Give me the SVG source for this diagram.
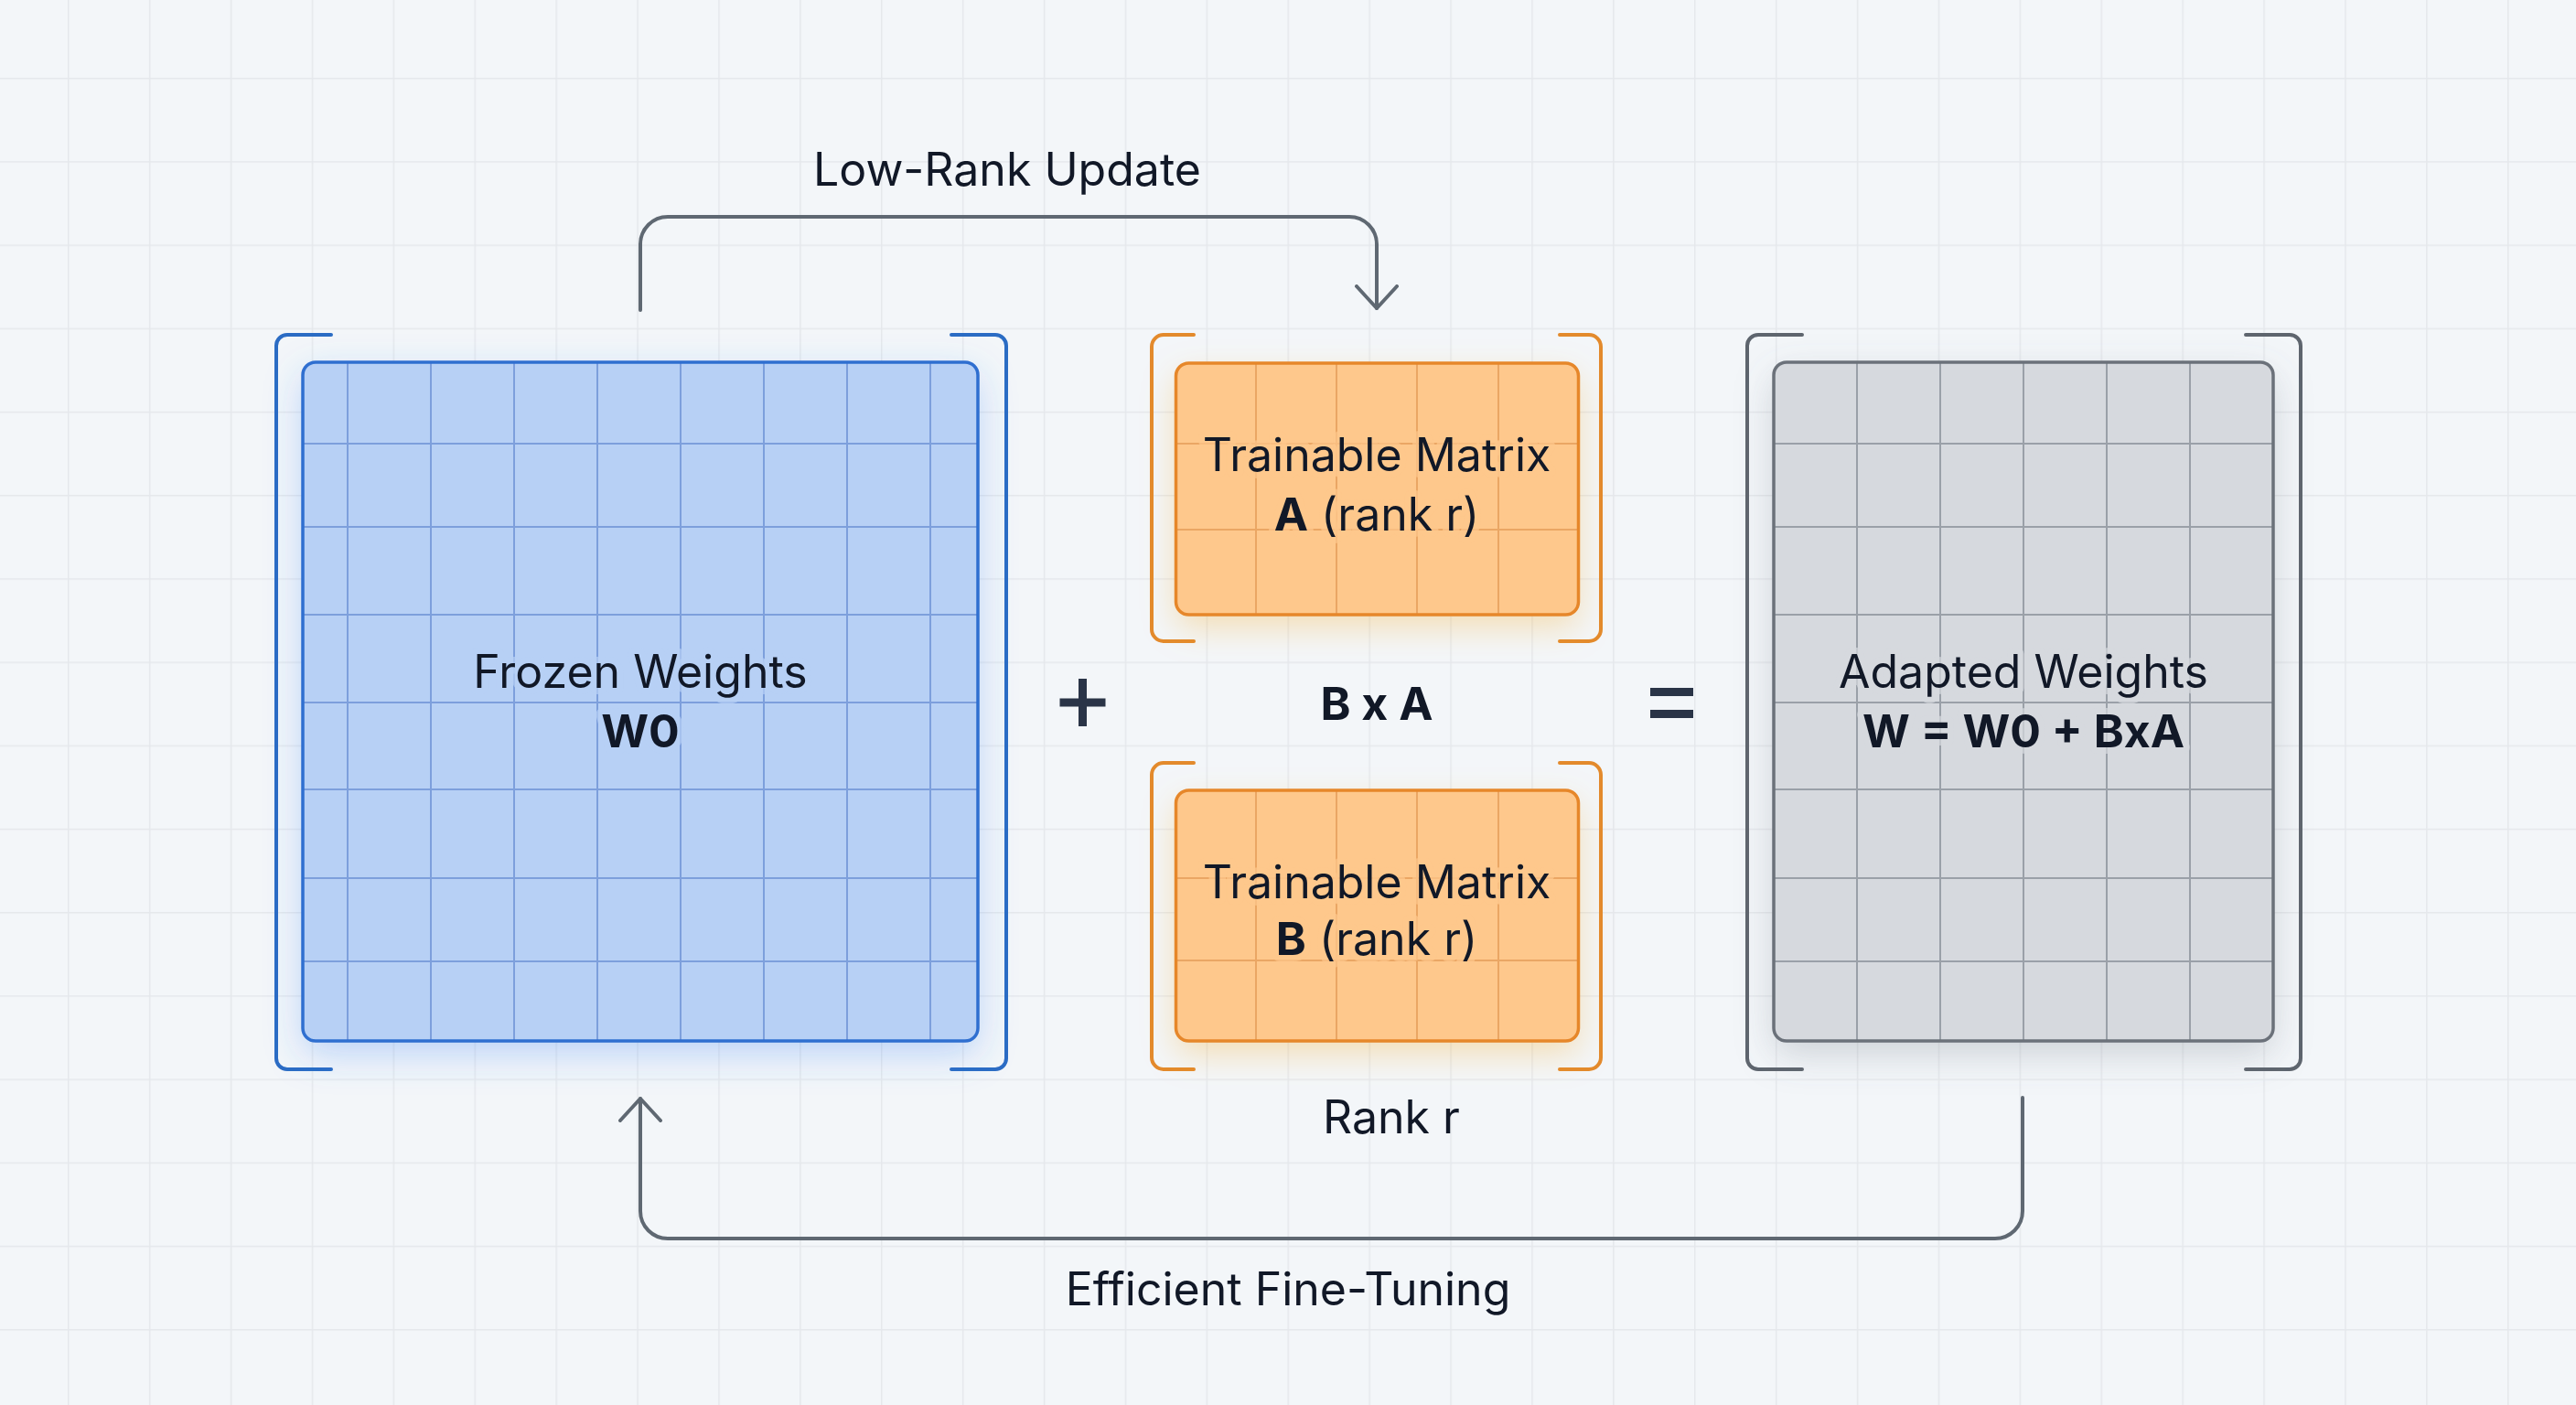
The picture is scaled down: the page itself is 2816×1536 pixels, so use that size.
<svg xmlns="http://www.w3.org/2000/svg" width="2816" height="1536" viewBox="0 0 2816 1536">
  <style>
    .lbl { font-family: Inter, "Noto Sans", "Liberation Sans", sans-serif; font-size: 50px; fill: #111827; text-anchor: middle; }
    .b { font-weight: 700; }
    .conn { fill: none; stroke: #5f6872; stroke-width: 4; stroke-linecap: round; stroke-linejoin: round; }
    .brk-blue { fill: none; stroke: #2b6cc4; stroke-width: 4; stroke-linecap: round; }
    .brk-orange { fill: none; stroke: #e38a2c; stroke-width: 4; stroke-linecap: round; }
    .brk-gray { fill: none; stroke: #5e656e; stroke-width: 4; stroke-linecap: round; }
    .grid-blue { stroke: #7d9fdc; stroke-width: 2; }
    .grid-orange { stroke: #eaa664; stroke-width: 2; }
    .grid-gray { stroke: #9aa0a8; stroke-width: 2; }
    .halo-blue { stroke: #b7d0f5; stroke-width: 14; stroke-opacity: 0.7; paint-order: stroke; stroke-linejoin: round; }
    .halo-orange { stroke: #fec88c; stroke-width: 14; stroke-opacity: 0.7; paint-order: stroke; stroke-linejoin: round; }
    .halo-gray { stroke: #d6d9de; stroke-width: 14; stroke-opacity: 0.7; paint-order: stroke; stroke-linejoin: round; }
    .op { fill: #2a3447; }
  </style>
  <defs>
    <pattern id="bggrid" x="74" y="85" width="88.9" height="91.2" patternUnits="userSpaceOnUse">
      <path d="M0.5,0 V91.2 M0,0.5 H88.9" fill="none" stroke="#e5e8ec" stroke-width="2"/>
    </pattern>
    <filter id="shBlue" x="-20%" y="-20%" width="140%" height="140%">
      <feDropShadow dx="0" dy="14" stdDeviation="20" flood-color="#3b82f6" flood-opacity="0.3"/>
    </filter>
    <filter id="shOrange" x="-20%" y="-20%" width="140%" height="150%">
      <feDropShadow dx="0" dy="14" stdDeviation="18" flood-color="#f59e0b" flood-opacity="0.28"/>
    </filter>
    <filter id="shGray" x="-20%" y="-20%" width="140%" height="140%">
      <feDropShadow dx="0" dy="14" stdDeviation="20" flood-color="#6b7280" flood-opacity="0.28"/>
    </filter>
    <clipPath id="cpFrozen"><rect x="331" y="396" width="738" height="742" rx="14"/></clipPath>
    <clipPath id="cpA"><rect x="1285.5" y="397" width="440" height="275" rx="14"/></clipPath>
    <clipPath id="cpB"><rect x="1285.5" y="864" width="440" height="274" rx="14"/></clipPath>
    <clipPath id="cpGray"><rect x="1939" y="396" width="546" height="742" rx="14"/></clipPath>
    <marker id="arr" viewBox="-26 -26 52 52" markerWidth="52" markerHeight="52" refX="0" refY="0" orient="auto" markerUnits="userSpaceOnUse">
      <path d="M-24,-22 L0,0 L-24,22" fill="none" stroke="#5f6872" stroke-width="4" stroke-linecap="round" stroke-linejoin="round"/>
    </marker>
  </defs>

  <rect width="2816" height="1536" fill="#f3f6f9"/>
  <rect width="2816" height="1536" fill="url(#bggrid)"/>

  <g id="connectors">
    <path class="conn" d="M700,339 V267 A30,30 0 0 1 730,237 H1475 A30,30 0 0 1 1505,267 V337" marker-end="url(#arr)"/>
    <path class="conn" d="M2211,1200 V1324 A30,30 0 0 1 2181,1354 H730 A30,30 0 0 1 700,1324 V1201" marker-end="url(#arr)"/>
  </g>

  <g id="label-low-rank-update">
    <text class="lbl" x="1101" y="203">Low-Rank Update</text>
  </g>

  <g id="frozen-weights">
    <path class="brk-blue" d="M362,366 H314 A12,12 0 0 0 302,378 V1157 A12,12 0 0 0 314,1169 H362"/>
    <path class="brk-blue" d="M1040,366 H1088 A12,12 0 0 1 1100,378 V1157 A12,12 0 0 1 1088,1169 H1040"/>
    <rect x="331" y="396" width="738" height="742" rx="14" fill="#b7d0f5" filter="url(#shBlue)"/>
    <g clip-path="url(#cpFrozen)" class="grid-blue">
      <path d="M380,396 V1138 M471,396 V1138 M562,396 V1138 M653,396 V1138 M744,396 V1138 M835,396 V1138 M926,396 V1138 M1017,396 V1138"/>
      <path d="M331,485 H1069 M331,576 H1069 M331,672 H1069 M331,768 H1069 M331,863 H1069 M331,960 H1069 M331,1051 H1069"/>
    </g>
    <rect x="331" y="396" width="738" height="742" rx="14" fill="none" stroke="#2f6fd0" stroke-width="3.5"/>
    <text class="lbl halo-blue" x="700" y="752">Frozen Weights</text>
    <text class="lbl b halo-blue" x="700" y="817">W0</text>
  </g>

  <g id="plus">
    <rect class="op" x="1158.5" y="763.5" width="50" height="9"/>
    <rect class="op" x="1179" y="742" width="9" height="52"/>
  </g>

  <g id="matrix-a">
    <path class="brk-orange" d="M1305,366 H1272 A13,13 0 0 0 1259,379 V688 A13,13 0 0 0 1272,701 H1305"/>
    <path class="brk-orange" d="M1705,366 H1737 A13,13 0 0 1 1750,379 V688 A13,13 0 0 1 1737,701 H1705"/>
    <rect x="1285.5" y="397" width="440" height="275" rx="14" fill="#fec88c" filter="url(#shOrange)"/>
    <g clip-path="url(#cpA)" class="grid-orange">
      <path d="M1373,397 V672 M1461,397 V672 M1549,397 V672 M1638,397 V672"/>
      <path d="M1285,485 H1726 M1285,579 H1726"/>
    </g>
    <rect x="1285.5" y="397" width="440" height="275" rx="14" fill="none" stroke="#e6872a" stroke-width="3.5"/>
    <text class="lbl halo-orange" x="1505" y="515">Trainable Matrix</text>
    <text class="lbl halo-orange" x="1505" y="580"><tspan class="b">A</tspan> (rank r)</text>
  </g>

  <g id="label-bxa">
    <text class="lbl b" x="1505" y="787" font-size="48">B x A</text>
  </g>

  <g id="matrix-b">
    <path class="brk-orange" d="M1305,834 H1272 A13,13 0 0 0 1259,847 V1156 A13,13 0 0 0 1272,1169 H1305"/>
    <path class="brk-orange" d="M1705,834 H1737 A13,13 0 0 1 1750,847 V1156 A13,13 0 0 1 1737,1169 H1705"/>
    <rect x="1285.5" y="864" width="440" height="274" rx="14" fill="#fec88c" filter="url(#shOrange)"/>
    <g clip-path="url(#cpB)" class="grid-orange">
      <path d="M1373,864 V1138 M1461,864 V1138 M1549,864 V1138 M1638,864 V1138"/>
      <path d="M1285,960 H1726 M1285,1050 H1726"/>
    </g>
    <rect x="1285.5" y="864" width="440" height="274" rx="14" fill="none" stroke="#e6872a" stroke-width="3.5"/>
    <text class="lbl halo-orange" x="1505" y="982">Trainable Matrix</text>
    <text class="lbl halo-orange" x="1505" y="1044"><tspan class="b">B</tspan> (rank r)</text>
  </g>

  <g id="label-rank-r">
    <text class="lbl" x="1521" y="1239">Rank r</text>
  </g>

  <g id="equals">
    <rect class="op" x="1804" y="752" width="47" height="9"/>
    <rect class="op" x="1804" y="776" width="47" height="9"/>
  </g>

  <g id="adapted-weights">
    <path class="brk-gray" d="M1970,366 H1922 A12,12 0 0 0 1910,378 V1157 A12,12 0 0 0 1922,1169 H1970"/>
    <path class="brk-gray" d="M2455,366 H2503 A12,12 0 0 1 2515,378 V1157 A12,12 0 0 1 2503,1169 H2455"/>
    <rect x="1939" y="396" width="546" height="742" rx="14" fill="#d6d9de" filter="url(#shGray)"/>
    <g clip-path="url(#cpGray)" class="grid-gray">
      <path d="M2030,396 V1138 M2121,396 V1138 M2212,396 V1138 M2303,396 V1138 M2394,396 V1138"/>
      <path d="M1939,485 H2485 M1939,576 H2485 M1939,672 H2485 M1939,768 H2485 M1939,863 H2485 M1939,960 H2485 M1939,1051 H2485"/>
    </g>
    <rect x="1939" y="396" width="546" height="742" rx="14" fill="none" stroke="#6b717a" stroke-width="3.5"/>
    <text class="lbl halo-gray" x="2212" y="752">Adapted Weights</text>
    <text class="lbl b halo-gray" x="2212" y="817">W = W0 + BxA</text>
  </g>

  <g id="label-efficient">
    <text class="lbl" x="1408" y="1427">Efficient Fine-Tuning</text>
  </g>
</svg>
